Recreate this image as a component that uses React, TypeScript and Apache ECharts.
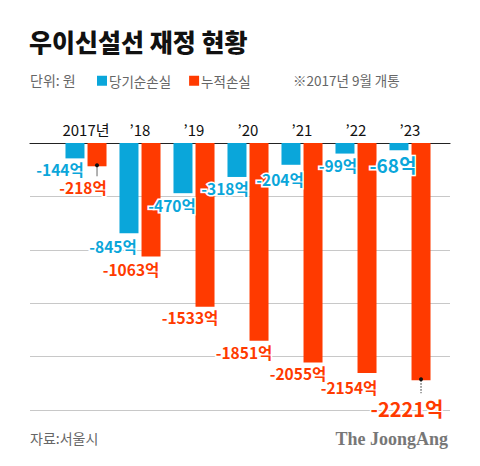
import React, { useEffect, useRef } from "react";
import * as echarts from "echarts";

const categories = ["2017년", "’18", "’19", "’20", "’21", "’22", "’23"];
const netLoss = [-144, -845, -470, -318, -204, -99, -68];
const cumLoss = [-218, -1063, -1533, -1851, -2055, -2154, -2221];
const yTicks = { min: -2500, max: 0, interval: 500 };

// label placement (style): offset from bar end centre, font size
const netLabelOffsets = [[-15, 11], [-16, 13], [-11, 12], [-12, 11], [-11, 14], [-7, 11], [-6, 14]];
const netLabelSizes = [15.5, 15.5, 15.5, 15.5, 15.5, 15.5, 19];
const cumLabelOffsets = [[-14, 21], [-20, 12], [-15, 10], [-15, 11], [-15, 11], [-18, 14], [-14, 28]];
const cumLabelSizes = [15.5, 15.5, 15.5, 15.5, 15.5, 15.5, 20];

const BLUE = "#0aa6da";
const RED = "#ff3a00";
const FONT = "'Noto Sans CJK KR', 'Noto Sans', sans-serif";

export default function App() {
  const ref = useRef<HTMLDivElement>(null);
  useEffect(() => {
    if (!ref.current) return;
    const chart = echarts.init(ref.current, null, { renderer: "svg", width: 480, height: 466 });
    const mkData = (vals: number[], offs: number[][], sizes: number[]) =>
      vals.map((v, i) => ({
        value: v,
        label: { offset: offs[i], fontSize: sizes[i] },
      }));
    const labelBase = (color: string) => ({
      show: true,
      position: "bottom",
      distance: 0,
      verticalAlign: "middle",
      align: "center",
      color,
      fontFamily: FONT,
      fontWeight: "bold",
      fontSize: 15.5,
      lineHeight: 13,
      textBorderColor: "#fff",
      textBorderWidth: 3,
      formatter: (p: any) => `-${Math.abs(p.value)}억`,
    });
    chart.setOption({
      animation: false,
      title: {
        text: "우이신설선 재정 현황",
        left: 29,
        top: 28,
        padding: 0,
        textStyle: { fontFamily: FONT, fontSize: 25, fontWeight: 900, color: "#111" },
      },
      legend: {
        left: 97,
        top: 74,
        itemWidth: 10,
        itemHeight: 10,
        itemGap: 18,
        icon: "rect",
        padding: 0,
        data: ["당기순손실", "누적손실"],
        textStyle: { fontFamily: FONT, fontSize: 13.5, color: "#666", padding: [0, 0, 0, -3] },
      },
      grid: [
        { left: 30, right: 30, top: 143, bottom: 56 },
        { left: 59, width: 378, top: 143, bottom: 56 },
      ],
      xAxis: [
        {
          gridIndex: 0,
          type: "value",
          position: "top",
          min: 0,
          max: 1,
          axisLine: { show: true, onZero: false, lineStyle: { color: "#222", width: 1.2 } },
          axisTick: { show: false },
          axisLabel: { show: false },
          splitLine: { show: false },
        },
        {
          gridIndex: 1,
          type: "category",
          position: "top",
          data: categories,
          axisLine: { show: false },
          axisTick: { show: false },
          axisLabel: { interval: 0, fontFamily: FONT, fontSize: 15, color: "#111", margin: 6 },
        },
      ],
      yAxis: [
        {
          gridIndex: 0,
          type: "value",
          ...yTicks,
          axisLine: { show: false },
          axisTick: { show: false },
          axisLabel: { show: false },
          splitLine: { show: true, lineStyle: { color: "#c8c8c8", width: 1 } },
        },
        {
          gridIndex: 1,
          type: "value",
          ...yTicks,
          show: false,
          splitLine: { show: false },
        },
      ],
      series: [
        {
          name: "당기순손실",
          type: "bar",
          xAxisIndex: 1,
          yAxisIndex: 1,
          barWidth: 19,
          barGap: "16%",
          itemStyle: { color: BLUE },
          label: labelBase(BLUE),
          data: mkData(netLoss, netLabelOffsets, netLabelSizes),
          z: 3,
        },
        {
          name: "누적손실",
          type: "bar",
          xAxisIndex: 1,
          yAxisIndex: 1,
          barWidth: 19,
          barGap: "16%",
          itemStyle: { color: RED },
          label: labelBase(RED),
          data: mkData(cumLoss, cumLabelOffsets, cumLabelSizes),
          z: 2,
        },
      ],
    });

    // leader lines computed from library layout
    const seriesModel: any = (chart as any).getModel().getSeriesByIndex(1);
    const d = seriesModel.getData();
    const leader = (idx: number, len: number, dashed: boolean) => {
      const lay = d.getItemLayout(idx);
      const cx = lay.x + lay.width / 2;
      const by = Math.max(lay.y, lay.y + lay.height);
      return [
        {
          type: "line",
          shape: { x1: cx, y1: by, x2: cx, y2: by + len },
          style: { stroke: dashed ? "#222" : "#666", lineWidth: 1, lineDash: dashed ? [1.5, 1.5] : null },
          z: 10,
        },
        { type: "circle", shape: { cx, cy: by - 1, r: 2 }, style: { fill: "#111" }, z: 11 },
      ];
    };
    chart.setOption({
      graphic: [
        ...leader(0, 10, false),
        ...leader(6, 13, true),
        {
          type: "text",
          x: 30,
          y: 80,
          style: { text: "단위: 원", fontFamily: FONT, fontSize: 14, fill: "#666", verticalAlign: "middle" },
        },
        {
          type: "text",
          x: 293,
          y: 80,
          style: { text: "※2017년 9월 개통", fontFamily: FONT, fontSize: 13.5, fill: "#666", verticalAlign: "middle" },
        },
        {
          type: "text",
          x: 30,
          y: 438,
          style: { text: "자료:서울시", fontFamily: FONT, fontSize: 14, fill: "#666", verticalAlign: "middle" },
        },
        {
          type: "text",
          x: 448,
          y: 439,
          style: {
            text: "The JoongAng",
            fontFamily: "'Liberation Serif', 'DejaVu Serif', serif",
            fontWeight: "bold",
            fontSize: 18,
            fill: "#777",
            align: "right",
            verticalAlign: "middle",
          },
        },
      ],
    });
    return () => chart.dispose();
  }, []);
  return <div ref={ref} style={{ position: "fixed", left: 0, top: 0, width: 480, height: 466, background: "#fff" }} />;
}
